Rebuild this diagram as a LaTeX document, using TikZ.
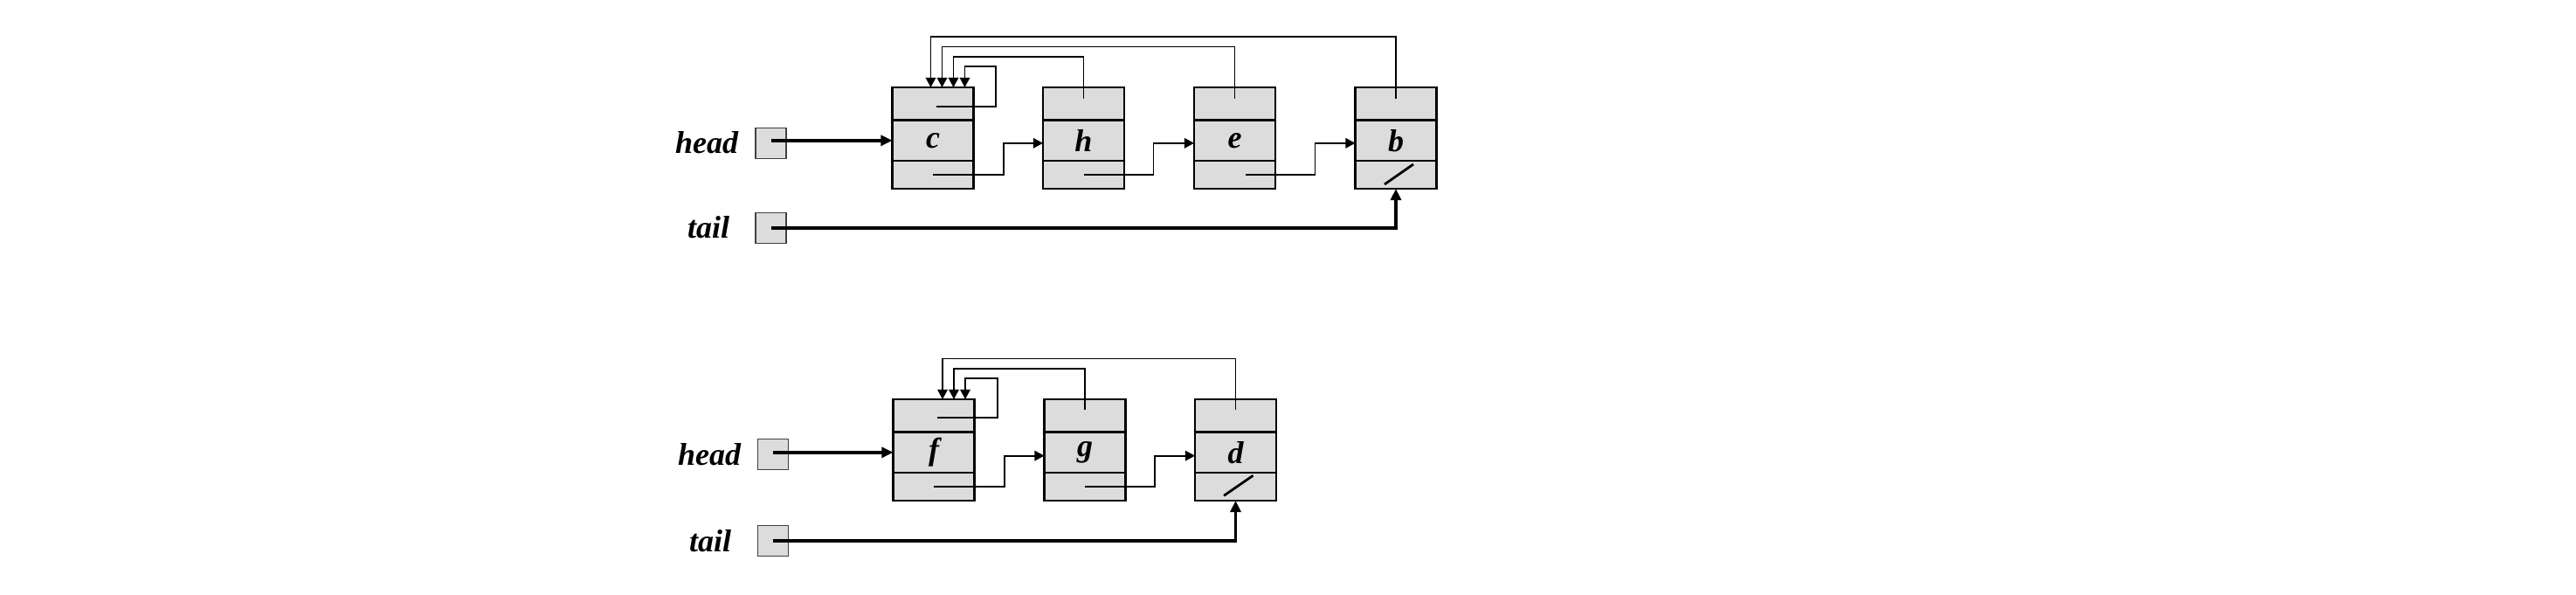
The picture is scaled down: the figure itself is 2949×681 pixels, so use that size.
\documentclass[tikz,border=0pt]{standalone}
\usepackage{fontspec}
\setmainfont{Liberation Serif}
\usetikzlibrary{arrows.meta,calc}
\definecolor{cellgray}{RGB}{220,220,220}
\begin{document}
\begin{tikzpicture}[x=0.25pt,y=-0.25pt,
  cell/.style={draw, fill=cellgray, line width=0.7pt, inner sep=0pt, outer sep=0pt, minimum width=23.25pt},
  topcell/.style={cell, minimum height=9.425pt},
  datacell/.style={cell, minimum height=11.575pt, font=\fontsize{9}{10}\selectfont\bfseries\itshape},
  nextcell/.style={cell, minimum height=8pt},
  varbox/.style={draw=black!75, fill=cellgray, line width=0.4pt, minimum size=8.75pt, inner sep=0pt, outer sep=0pt},
  lbl/.style={font=\fontsize{9}{10}\selectfont\bfseries\itshape, inner sep=0pt},
  ptr/.style={line width=0.45pt, -{Triangle[length=2.8pt,width=2.9pt]}},
  bigptr/.style={line width=0.85pt, -{Triangle[length=3.3pt,width=3pt]}},
  nil/.style={line width=0.7pt}
]
\useasboundingbox (0,0) rectangle (2949,681);

% ---------- first list ----------
\node[lbl] (head1) at (809,163) {head};
\node[lbl] (tail1) at (811,260) {tail};
\node[varbox] (hb1) at (882.5,164) {};
\node[varbox] (tb1) at (882.5,261) {};

\foreach \n/\x/\t in {c/1068/c, h/1240.5/h, e/1413.5/e, b/1598/b}{
  \node[topcell] (\n t) at (\x,118.85) {};
  \node[datacell] (\n m) at (\x,160.85) {\t};
  \node[nextcell] (\n b) at (\x,200) {};
}

% next pointers
\draw[ptr] (cb.center) -- ++(81,0) |- ($(hm.west)+(0,3)$);
\draw[ptr] (hb.center) -- ++(80,0) |- ($(em.west)+(0,3)$);
\draw[ptr] ($(eb.center)+(12,0)$) -- ++(80,0) |- ($(bm.west)+(0,3)$);
% nil
\draw[nil] ($(bb.center)+(-13,11)$) -- ($(bb.center)+(20,-12)$);

% back pointers to c
\draw[ptr] ($(ct.center)+(3.5,3)$) -- ++(68.5,0) -- ++(0,-45.7) -| ($(ct.north)+(36.5,0)$);
\draw[ptr] ($(ht.center)+(0,-6)$) -- ++(0,-47.7) -| ($(ct.north)+(23.5,0)$);
\draw[ptr] ($(et.center)+(0,-6)$) -- ++(0,-59.4) -| ($(ct.north)+(10.5,0)$);
\draw[ptr] ($(bt.center)+(0,-6)$) -- ++(0,-71) -| ($(ct.north)+(-2.5,0)$);

% head / tail
\draw[bigptr] (hb1.center |- cm.west) -- (cm.west);
\draw[bigptr] (tb1.center) -| (bb.south);

% ---------- second list ----------
\node[lbl] (head2) at (812,520) {head};
\node[lbl] (tail2) at (813,619) {tail};
\node[varbox] (hb2) at (885,520) {};
\node[varbox] (tb2) at (885,619) {};

\foreach \n/\x/\t in {f/1069/f, g/1242/g, d/1414.5/d}{
  \node[topcell] (\n t) at (\x,475.85) {};
  \node[datacell] (\n m) at (\x,517.85) {\t};
  \node[nextcell] (\n b) at (\x,557) {};
}

\draw[ptr] (fb.center) -- ++(81,0) |- ($(gm.west)+(0,3.8)$);
\draw[ptr] (gb.center) -- ++(80,0) |- ($(dm.west)+(0,3.8)$);
\draw[nil] ($(db.center)+(-13.4,10.3)$) -- ($(db.center)+(20,-12.7)$);

\draw[ptr] ($(ft.center)+(4,2.5)$) -- ++(69,0) -- ++(0,-45.6) -| ($(ft.north)+(36,0)$);
\draw[ptr] ($(gt.center)+(0,-7)$) -- ++(0,-46.7) -| ($(ft.north)+(23,0)$);
\draw[ptr] ($(dt.center)+(0,-7)$) -- ++(0,-58.3) -| ($(ft.north)+(10,0)$);

\draw[bigptr] (hb2.center |- fm.west) -- (fm.west);
\draw[bigptr] (tb2.center) -| (db.south);
\end{tikzpicture}
\end{document}
